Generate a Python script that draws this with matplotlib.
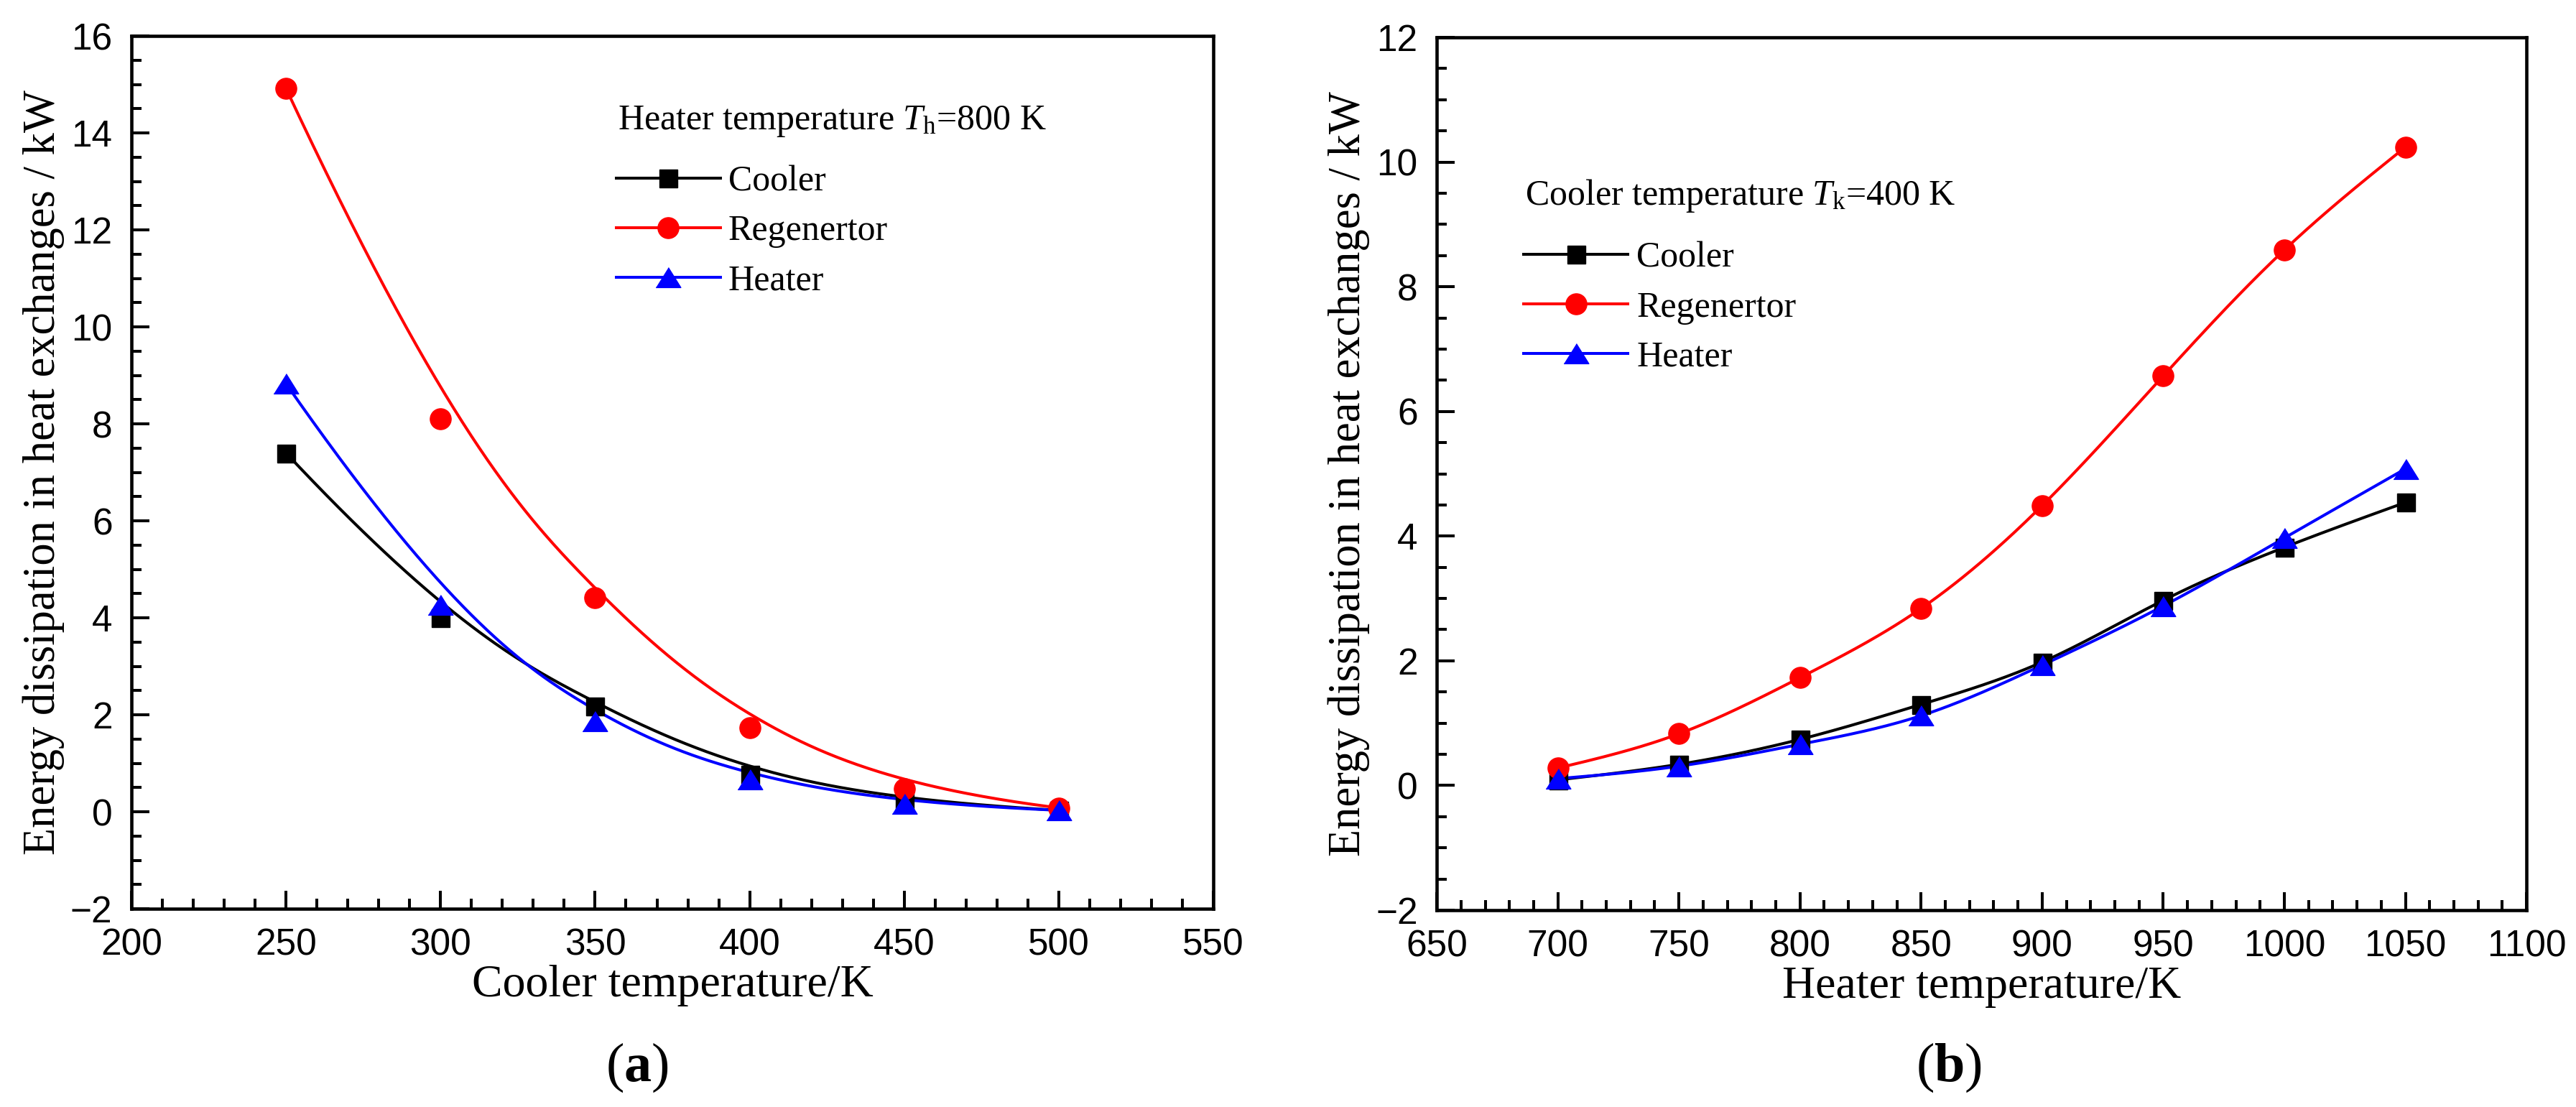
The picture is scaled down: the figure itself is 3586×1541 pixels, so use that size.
import matplotlib
matplotlib.use("Agg")
import matplotlib.pyplot as plt
import numpy as np
from matplotlib.font_manager import FontProperties
from matplotlib.lines import Line2D
from matplotlib.ticker import MultipleLocator

plt.rcParams["mathtext.fontset"] = "custom"
plt.rcParams["mathtext.rm"] = "Liberation Serif"
plt.rcParams["mathtext.it"] = "Liberation Serif:italic"
plt.rcParams["mathtext.bf"] = "Liberation Serif:bold"

SERIF = "Liberation Serif"
SANS = "Liberation Sans"

# (a) heater temperature fixed at 800 K
cooler_temp = [250, 300, 350, 400, 450, 500]
a_cooler = [7.40, 4.00, 2.18, 0.77, 0.22, 0.03]
a_regen = [14.92, 8.10, 4.41, 1.73, 0.48, 0.08]
a_heater = [8.83, 4.26, 1.86, 0.67, 0.17, 0.03]

# (b) cooler temperature fixed at 400 K
heater_temp = [700, 750, 800, 850, 900, 950, 1000, 1050]
b_cooler = [0.09, 0.34, 0.74, 1.30, 1.98, 2.97, 3.82, 4.54]
b_regen = [0.28, 0.83, 1.73, 2.84, 4.49, 6.57, 8.59, 10.24]
b_heater = [0.11, 0.31, 0.66, 1.12, 1.93, 2.88, 3.97, 5.08]

series_names = ["Cooler", "Regenertor", "Heater"]
colors = ["black", "red", "blue"]
# Origin-style triangle is a bit wider than tall
TRIANGLE = [(-1, -0.8), (1, -0.8), (0, 0.8)]
markers = ["s", "o", TRIANGLE]
marker_sizes = [18, 21, 25]


def bspline(x, y, n=300, k=3):
    """Clamped cubic B-spline using the data points as control points."""
    x = np.asarray(x, float)
    y = np.asarray(y, float)
    m = len(x)
    knots = np.concatenate([np.zeros(k), np.linspace(0, 1, m - k + 1), np.ones(k)])
    t = np.linspace(0, 1 - 1e-12, n)
    B = np.zeros((n, len(knots) - 1))
    for i in range(len(knots) - 1):
        B[:, i] = (knots[i] <= t) & (t < knots[i + 1])
    for d in range(1, k + 1):
        nb = np.zeros((n, len(knots) - 1 - d))
        for i in range(len(knots) - 1 - d):
            left = right = 0.0
            den1 = knots[i + d] - knots[i]
            den2 = knots[i + d + 1] - knots[i + 1]
            if den1 > 0:
                left = (t - knots[i]) / den1 * B[:, i]
            if den2 > 0:
                right = (knots[i + d + 1] - t) / den2 * B[:, i + 1]
            nb[:, i] = left + right
        B = nb
    return B @ x, B @ y


def natural_spline(x, y, n=300):
    """Interpolating natural cubic spline."""
    x = np.asarray(x, float)
    y = np.asarray(y, float)
    m = len(x)
    h = np.diff(x)
    A = np.zeros((m, m))
    r = np.zeros(m)
    A[0, 0] = A[-1, -1] = 1
    for i in range(1, m - 1):
        A[i, i - 1] = h[i - 1]
        A[i, i] = 2 * (h[i - 1] + h[i])
        A[i, i + 1] = h[i]
        r[i] = 6 * ((y[i + 1] - y[i]) / h[i] - (y[i] - y[i - 1]) / h[i - 1])
    M = np.linalg.solve(A, r)
    xs = np.linspace(x[0], x[-1], n)
    idx = np.clip(np.searchsorted(x, xs) - 1, 0, m - 2)
    x0, x1 = x[idx], x[idx + 1]
    hh = x1 - x0
    a = (x1 - xs) / hh
    b = (xs - x0) / hh
    ys = (a * y[idx] + b * y[idx + 1]
          + ((a ** 3 - a) * M[idx] + (b ** 3 - b) * M[idx + 1]) * hh ** 2 / 6)
    return xs, ys


def style_axes(ax, xlim, xmajor, ylim, xlabel):
    ax.set_xlim(*xlim)
    ax.set_ylim(*ylim)
    ax.xaxis.set_major_locator(MultipleLocator(xmajor))
    ax.xaxis.set_minor_locator(MultipleLocator(10))
    ax.yaxis.set_major_locator(MultipleLocator(2))
    ax.yaxis.set_minor_locator(MultipleLocator(0.5))
    for sp in ax.spines.values():
        sp.set_linewidth(3.3)
    ax.tick_params(which="both", direction="in", top=False, right=False, width=2.9)
    ax.tick_params(which="major", length=18)
    ax.tick_params(which="minor", length=10)
    ax.tick_params(axis="x", pad=19)
    ax.tick_params(axis="y", pad=19)
    for lab in ax.get_xticklabels() + ax.get_yticklabels():
        lab.set_fontfamily(SANS)
        lab.set_fontsize(37)
    ax.set_xlabel(xlabel, fontfamily=SERIF, fontsize=46, labelpad=2)
    ax.set_ylabel("Energy dissipation in heat exchanges / kW",
                  fontfamily=SERIF, fontsize=45, labelpad=6)


def draw(ax, x, ys, curve):
    handles = []
    for y, c, mk, ms in zip(ys, colors, markers, marker_sizes):
        cx, cy = curve(x, y)
        ax.plot(cx, cy, color=c, lw=2.9, zorder=2)
        ax.plot(x, y, ls="none", marker=mk, ms=ms, color=c, zorder=3)
        handles.append(Line2D([], [], color=c, lw=2.9, marker=mk, ms=ms))
    return handles


legend_font = FontProperties(family=SERIF, size=36)

fig = plt.figure(figsize=(35.87, 15.41), dpi=100)
ax1 = fig.add_axes([0.0510, 0.1791, 0.4199, 0.7884])
ax2 = fig.add_axes([0.5576, 0.1778, 0.4229, 0.7884])

h1 = draw(ax1, cooler_temp, [a_cooler, a_regen, a_heater], bspline)
style_axes(ax1, (200, 550), 50, (-2, 16), "Cooler temperature/K")
ax1.text(0.4495, 0.893, r"Heater temperature $T_\mathrm{h}$=800 K",
         transform=ax1.transAxes, fontfamily=SERIF, fontsize=36, va="baseline")
ax1.legend(h1, series_names, loc="upper left", bbox_to_anchor=(0.448, 0.852),
           frameon=False, borderpad=0, borderaxespad=0, handlelength=2.9,
           handletextpad=0.22, labelspacing=0.45, numpoints=1, prop=legend_font)

h2 = draw(ax2, heater_temp, [b_cooler, b_regen, b_heater], natural_spline)
style_axes(ax2, (650, 1100), 50, (-2, 12), "Heater temperature/K")
ax2.text(0.081, 0.808, r"Cooler temperature $T_\mathrm{k}$=400 K",
         transform=ax2.transAxes, fontfamily=SERIF, fontsize=36, va="baseline")
ax2.legend(h2, series_names, loc="upper left", bbox_to_anchor=(0.080, 0.766),
           frameon=False, borderpad=0, borderaxespad=0, handlelength=2.9,
           handletextpad=0.24, labelspacing=0.45, numpoints=1, prop=legend_font)

fig.text(887 / 3587, 0.0234, r"($\mathbf{a}$)", fontfamily=SERIF, fontsize=55,
         ha="center", va="baseline")
fig.text(2713 / 3587, 0.0234, r"($\mathbf{b}$)", fontfamily=SERIF, fontsize=55,
         ha="center", va="baseline")

fig.savefig("out.png", dpi=100)
